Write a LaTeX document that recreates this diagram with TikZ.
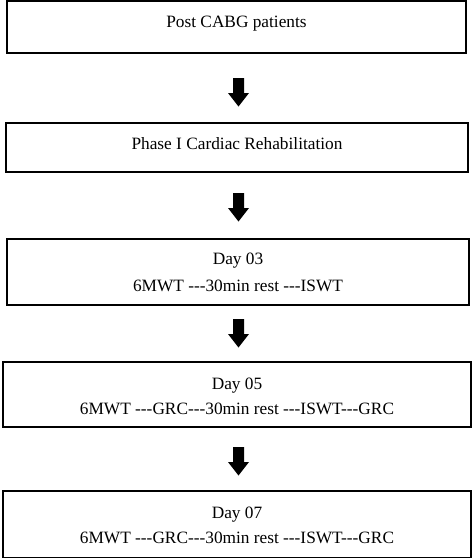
\documentclass[tikz,border=0pt]{standalone}
\usepackage{fontspec}
\setmainfont{Liberation Serif}
\begin{document}
\begin{tikzpicture}[x=1pt,y=-1pt,
  box/.style={draw, line width=1.3pt},
  txt/.style={anchor=base, inner sep=0pt, font=\fontsize{17.3}{20}\selectfont},
  blockarrow/.style={fill=black}]
\useasboundingbox (0,0) rectangle (474,558);
% boxes
\draw[box] (7,1) rectangle (466,53);
\draw[box] (6,123) rectangle (468,172);
\draw[box] (7,239) rectangle (469,305);
\draw[box] (3,362) rectangle (471,427);
\draw[box] (3,491) rectangle (471,557.5);
% texts
\node[txt] (t1) at (236.5,27) {Post CABG patients};
\node[txt] (t2) at (237,149) {Phase I Cardiac Rehabilitation};
\node[txt] (t3a) at (238,264) {Day 03};
\node[txt] (t3b) at (238,291) {6MWT -{}-{}-30min rest -{}-{}-ISWT};
\node[txt] (t4a) at (237,389) {Day 05};
\node[txt] (t4b) at (237,414) {6MWT -{}-{}-GRC-{}-{}-30min rest -{}-{}-ISWT-{}-{}-GRC};
\node[txt] (t5a) at (237,518) {Day 07};
\node[txt] (t5b) at (237,543) {6MWT -{}-{}-GRC-{}-{}-30min rest -{}-{}-ISWT-{}-{}-GRC};
% arrows
\coordinate (a1) at (238.5,78);
\coordinate (a2) at (238.5,193);
\coordinate (a3) at (238.5,319);
\coordinate (a4) at (238.5,447);
\foreach \c in {a1,a2,a3,a4}{
  \fill[blockarrow] (\c) ++(-5.5,0) -- ++(11,0) -- ++(0,15) -- ++(5,0)
    -- ++(-10.5,13.5) -- ++(-10.5,-13.5) -- ++(5,0) -- cycle;
}
\end{tikzpicture}
\end{document}
